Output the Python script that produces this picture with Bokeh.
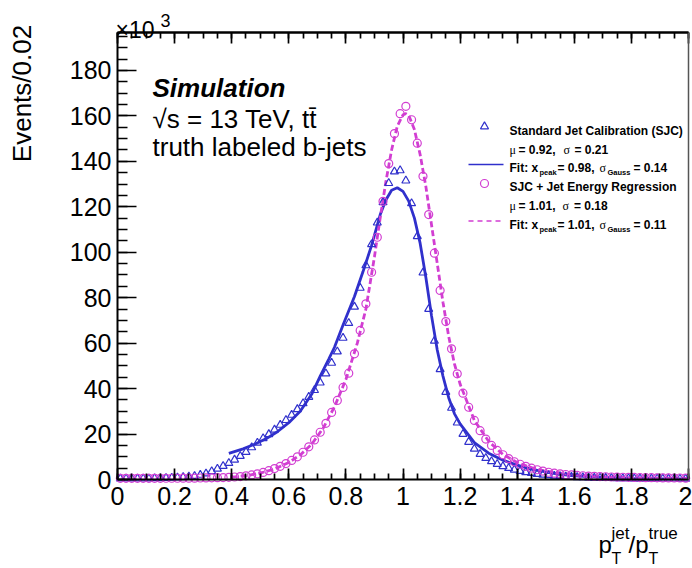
import math
from bokeh.plotting import figure
from bokeh.models import Range1d, LinearAxis, FixedTicker, Label, PrintfTickFormatter
from bokeh.embed import file_html
from bokeh.resources import INLINE

# ---------------- data (thousands of events per 0.02 bin) ----------------
n_bins = 100
x_min, x_max = 0.0, 2.0
bin_w = (x_max - x_min) / n_bins
bin_centers = [round(x_min + bin_w * (i + 0.5), 2) for i in range(n_bins)]

sjc_events = [
    0.4, 0.4, 0.4, 0.4, 0.4, 0.4, 0.5, 0.5, 0.6, 0.7,
    0.8, 1.0, 1.2, 1.5, 2.0, 2.6, 3.6, 4.7, 5.9, 7.2,
    8.7, 10.3, 12.1, 14.1, 16.1, 18.1, 19.9, 21.9, 24.0, 26.1,
    28.4, 30.9, 33.5, 36.3, 39.3, 42.6, 46.6, 51.3, 56.3, 62.3,
    68.8, 76.0, 84.3, 94.2, 103.5, 113.0, 122.0, 130.4, 135.5, 136.0,
    131.5, 121.5, 107.0, 91.0, 75.0, 61.0, 48.5, 38.5, 31.5, 25.0,
    20.0, 16.5, 13.5, 11.2, 9.4, 8.0, 6.8, 5.8, 5.0, 4.3,
    3.7, 3.2, 2.8, 2.4, 2.1, 1.8, 1.6, 1.4, 1.2, 1.1,
    1.0, 0.9, 0.8, 0.75, 0.7, 0.65, 0.6, 0.55, 0.5, 0.5,
    0.45, 0.45, 0.4, 0.4, 0.4, 0.35, 0.35, 0.35, 0.3, 0.3,
]

jer_events = [
    0.5, 0.5, 0.5, 0.5, 0.5, 0.5, 0.5, 0.5, 0.55, 0.55,
    0.55, 0.6, 0.6, 0.6, 0.65, 0.7, 0.75, 0.8, 0.85, 0.95,
    1.1, 1.3, 1.6, 2.0, 2.5, 3.1, 3.9, 4.8, 5.8, 7.0,
    8.4, 10.0, 12.0, 14.4, 17.4, 20.8, 24.7, 29.5, 34.8, 40.5,
    46.8, 55.3, 65.6, 77.3, 91.2, 106.6, 122.4, 139.0, 152.2, 161.0,
    164.2, 158.3, 148.0, 133.4, 116.6, 99.6, 83.2, 69.5, 57.5, 46.5,
    38.0, 31.8, 26.0, 21.5, 17.8, 15.0, 12.8, 10.9, 9.2, 7.8,
    6.7, 5.8, 5.0, 4.3, 3.7, 3.2, 2.8, 2.5, 2.2, 2.0,
    1.8, 1.65, 1.5, 1.4, 1.3, 1.2, 1.1, 1.05, 1.0, 0.95,
    0.9, 0.85, 0.8, 0.8, 0.75, 0.7, 0.7, 0.65, 0.65, 0.6,
]

sjc_fit_x = [0.39, 0.44, 0.48, 0.52, 0.56, 0.60, 0.64, 0.68, 0.71, 0.74,
             0.76, 0.79, 0.83, 0.86, 0.89, 0.92, 0.94, 0.96, 0.98, 1.00,
             1.02, 1.04, 1.06, 1.08, 1.10, 1.12, 1.14, 1.16, 1.18, 1.20,
             1.25, 1.30, 1.35, 1.40, 1.45, 1.50, 1.55, 1.60, 1.70, 1.80,
             1.90, 2.00]
sjc_fit_y = [11.5, 13.5, 15.5, 17.9, 21.0, 25.0, 30.0, 37.5, 45.5, 53.0,
             58.2, 68.0, 80.5, 91.5, 103.0, 116.5, 123.0, 127.3, 128.4, 126.8,
             122.5, 115.0, 104.0, 89.0, 72.0, 57.0, 45.5, 36.0, 29.0, 24.5,
             16.2, 11.6, 8.5, 6.3, 4.6, 3.3, 2.3, 1.6, 0.9, 0.5,
             0.35, 0.25]

jer_fit_x = [0.40, 0.45, 0.50, 0.55, 0.60, 0.64, 0.68, 0.72, 0.76, 0.80,
             0.84, 0.87, 0.90, 0.92, 0.94, 0.96, 0.98, 1.00, 1.01, 1.02,
             1.04, 1.06, 1.08, 1.10, 1.12, 1.14, 1.16, 1.18, 1.20, 1.25,
             1.30, 1.35, 1.40, 1.45, 1.50, 1.60, 1.70, 1.80, 1.90, 2.00]
jer_fit_y = [1.0, 1.7, 2.8, 4.6, 7.5, 10.8, 15.5, 22.5, 32.0, 44.0,
             60.0, 75.0, 98.0, 115.0, 131.0, 145.0, 155.5, 160.5, 161.0, 160.3,
             154.0, 143.0, 129.0, 112.0, 95.0, 78.0, 63.0, 51.0, 42.0, 26.0,
             16.8, 11.0, 7.5, 5.2, 3.7, 2.0, 1.2, 0.8, 0.6, 0.5]

x_ticks = [0, 0.2, 0.4, 0.6, 0.8, 1.0, 1.2, 1.4, 1.6, 1.8, 2.0]
y_ticks = [0, 20, 40, 60, 80, 100, 120, 140, 160, 180]
y_top = 196.7

# ---------------- layout (page pixels) ----------------
W, H = 692, 568
FRAME_L, FRAME_R, FRAME_T, FRAME_B = 117, 688, 32, 479
BLUE = "#3030cc"
MAGENTA = "#d23ed2"
FONT = "Liberation Sans"

x_scale = (FRAME_R - FRAME_L) / (x_max - x_min)      # px per unit
y_scale = (FRAME_B - FRAME_T) / y_top
x_range = Range1d(x_min - FRAME_L / x_scale, x_max + (W - FRAME_R) / x_scale)
y_range = Range1d(-(H - FRAME_B) / y_scale, y_top + FRAME_T / y_scale)

p = figure(width=W, height=H, x_range=x_range, y_range=y_range,
           output_backend="svg", toolbar_location=None,
           min_border_left=0, min_border_right=0, min_border_top=0, min_border_bottom=0,
           x_axis_location=None, y_axis_location=None)
p.grid.visible = False
p.outline_line_color = None
p.background_fill_color = "white"
p.border_fill_color = "white"

x_minor = [round(0.05 * k, 2) for k in range(41)]
y_minor = [5 * k for k in range(40)]


def style_axis(ax, major, minor, width=2, color="black"):
    ax.axis_line_width = width
    ax.axis_line_color = color
    ax.major_tick_in = major
    ax.major_tick_out = 0
    ax.minor_tick_in = minor
    ax.minor_tick_out = 0
    ax.major_tick_line_width = 1.7
    ax.minor_tick_line_width = 1.7
    ax.major_label_text_font = FONT
    ax.major_label_text_font_size = "25px"
    ax.major_label_text_color = "black"


# bottom axis (with labels)
xb = LinearAxis(ticker=FixedTicker(ticks=x_ticks, minor_ticks=x_minor),
                formatter=PrintfTickFormatter(format="%g"),
                fixed_location=0, bounds=(x_min, x_max))
style_axis(xb, 11, 6)
xb.major_label_standoff = 7
p.add_layout(xb, "below")

# left axis (with labels)
yl = LinearAxis(ticker=FixedTicker(ticks=y_ticks, minor_ticks=y_minor),
                fixed_location=x_min, bounds=(0, y_top))
style_axis(yl, 19, 10)
yl.major_label_standoff = 6
p.add_layout(yl, "left")

# top frame edge: ticks only (major positions drawn as long minor ticks)
xa1 = LinearAxis(ticker=FixedTicker(ticks=[], minor_ticks=x_ticks),
                 fixed_location=y_top, bounds=(x_min, x_max))
style_axis(xa1, 11, 11)
p.add_layout(xa1, "above")
xa2 = LinearAxis(ticker=FixedTicker(ticks=[], minor_ticks=x_minor),
                 fixed_location=y_top, bounds=(x_min, x_max))
style_axis(xa2, 6, 6)
p.add_layout(xa2, "above")

# right frame edge: plain line
yr = LinearAxis(ticker=FixedTicker(ticks=[], minor_ticks=[]),
                fixed_location=x_max, bounds=(0, y_top))
style_axis(yr, 0, 0, width=1.5, color="#555555")
p.add_layout(yr, "right")

# ---------------- data marks ----------------
p.line(sjc_fit_x, sjc_fit_y, line_color=BLUE, line_width=2.8)
p.line(jer_fit_x, jer_fit_y, line_color=MAGENTA, line_width=2.8, line_dash="6 3")
p.scatter(bin_centers, sjc_events, marker="triangle", size=8, fill_color=None,
          line_color=BLUE, line_width=1.2)
p.scatter(bin_centers, jer_events, marker="circle", size=8, fill_color=None,
          line_color=MAGENTA, line_width=1.2)


# ---------------- texts ----------------
def add_text(txt, X, Y, size, style="normal", font=FONT, align="left",
             baseline="alphabetic", angle=0.0, color="black"):
    p.add_layout(Label(x=X, y=H - Y, x_units="screen", y_units="screen",
                       text=txt, text_font=font, text_font_size=f"{size}px",
                       text_font_style=style, text_align=align,
                       text_baseline=baseline, angle=angle, text_color=color))


add_text("Simulation", 152, 87, 26, style="bold italic")
add_text("\u221as = 13 TeV, tt\u0304", 152, 118.6, 26)
add_text("truth labeled b-jets", 152, 146.5, 26)

add_text("\u00d710", 115, 29.5, 23)
add_text("3", 160, 20, 18)

add_text("Events/0.02", 21, 93, 26, align="center", angle=math.pi / 2)

add_text("p", 598, 544, 24)
add_text("jet", 611, 533, 17)
add_text("T", 611, 558, 16)
add_text("/p", 628, 544, 24)
add_text("true", 648, 533, 17)
add_text("T", 648, 558, 16)

# legend
GREEK = "Liberation Serif"
rows = [130, 149, 167.5, 186.7, 205.7, 224.3]
add_text("Standard Jet Calibration (SJC)", 509, rows[0], 12, style="bold")
add_text("\u03bc", 509, rows[1], 12, font=GREEK)
add_text("= 0.92,", 518, rows[1], 12, style="bold")
add_text("\u03c3", 563, rows[1], 12, font=GREEK)
add_text("= 0.21", 574, rows[1], 12, style="bold")
add_text("Fit: x", 509, rows[2], 12, style="bold")
add_text("peak", 539, rows[2] + 4.5, 7.5, style="bold")
add_text("= 0.98,", 557, rows[2], 12, style="bold")
add_text("\u03c3", 599, rows[2], 12, font=GREEK)
add_text("Gauss", 607, rows[2] + 4.5, 7.5, style="bold")
add_text("= 0.14", 633, rows[2], 12, style="bold")
add_text("SJC + Jet Energy Regression", 509, rows[3], 12, style="bold")
add_text("\u03bc", 509, rows[4], 12, font=GREEK)
add_text("= 1.01,", 518, rows[4], 12, style="bold")
add_text("\u03c3", 562, rows[4], 12, font=GREEK)
add_text("= 0.18", 573.5, rows[4], 12, style="bold")
add_text("Fit: x", 509, rows[5], 12, style="bold")
add_text("peak", 539, rows[5] + 4.5, 7.5, style="bold")
add_text("= 1.01,", 557, rows[5], 12, style="bold")
add_text("\u03c3", 599, rows[5], 12, font=GREEK)
add_text("Gauss", 607, rows[5] + 4.5, 7.5, style="bold")
add_text("= 0.11", 633, rows[5], 12, style="bold")


def px_x(X):
    return x_min + (X - FRAME_L) / x_scale


def px_y(Y):
    return (FRAME_B - Y) / y_scale


p.scatter([px_x(484)], [px_y(126)], marker="triangle", size=8, fill_color=None,
          line_color=BLUE, line_width=1.2)
p.line([px_x(468), px_x(503)], [px_y(164)] * 2, line_color=BLUE, line_width=1.4)
p.scatter([px_x(484)], [px_y(183)], marker="circle", size=8, fill_color=None,
          line_color=MAGENTA, line_width=1.2)
p.line([px_x(468), px_x(503)], [px_y(220.5)] * 2, line_color=MAGENTA, line_width=1.4,
       line_dash="5 4")

open("out.html", "w").write(file_html(p, INLINE))
